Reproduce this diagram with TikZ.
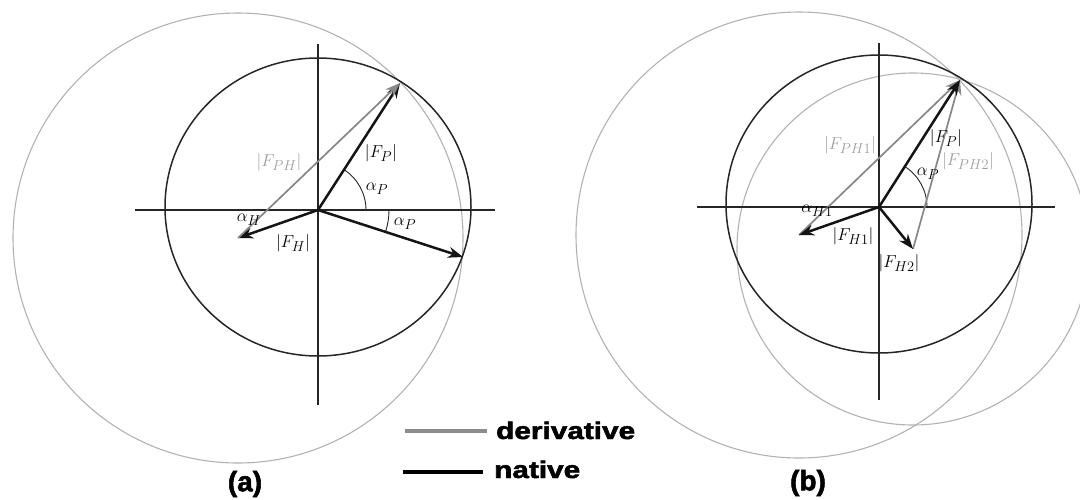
\documentclass[tikz,border=0pt]{standalone}
\usepackage{fontspec}
\newfontfamily\legfont[BoldFeatures={FakeBold=2}]{Liberation Sans}
\usetikzlibrary{arrows.meta}
\begin{document}
\begin{tikzpicture}[x=1pt,y=-1pt,
  axis/.style={line width=1.2pt, draw=black!85},
  ncirc/.style={line width=1.5pt, draw=black!85},
  dcirc/.style={line width=1.1pt, draw=black!30},
  nvec/.style={line width=2.5pt, draw=black!92, -{Stealth[length=15pt,width=11pt]}},
  dvec/.style={line width=1.7pt, draw=black!47, -{Stealth[length=15pt,width=11pt]}},
  ang/.style={line width=0.9pt, draw=black!85},
  lab/.style={font=\fontsize{19}{19}\selectfont, inner sep=0pt},
  dlab/.style={lab, text=black!38},
  leg/.style={font=\legfont\bfseries\fontsize{24}{24}\selectfont, inner sep=0pt, anchor=base west},
  captext/.style={font=\legfont\bfseries\fontsize{28}{28}\selectfont, inner sep=0pt},
  legn/.style={line width=3.2pt, draw=black},
  legd/.style={line width=3.2pt, draw=black!45}
]
\useasboundingbox (0,0) rectangle (1080,499);
\clip (0,0) rectangle (1080,499);

% ---------------- panel (a) ----------------
\coordinate (Oa) at (318,210);
\coordinate (Ca) at (318,207);
\coordinate (Pa) at (400,83);
\coordinate (Qa) at (463,257);
\coordinate (Ha) at (238,238);
\coordinate (axL) at (135,210);
\coordinate (axR) at (495,210);
\coordinate (axT) at (318,44);
\coordinate (axB) at (318,405);

\draw[dcirc] (Ha) circle[radius=225];
\draw[ncirc] (Ca) ellipse[x radius=153, y radius=149];
\draw[axis] (axL) -- (axR);
\draw[axis] (axT) -- (axB);
\draw[ang] (Oa) ++(48,0) arc[start angle=0, end angle=-57, radius=48];
\draw[ang] (Oa) ++(71,0) arc[start angle=0, end angle=18, radius=71];
\draw[nvec] (Oa) -- (Pa);
\draw[nvec] (Oa) -- (Qa);
\draw[nvec] (Oa) -- (Ha);
\draw[dvec] (Ha) -- (Pa);

\node[lab]  (lFPa)  at (381,153) {$|F_P|$};
\node[lab]  (laPa)  at (377,189) {$\alpha_P$};
\node[lab]  (laPa2) at (405,224) {$\alpha_P$};
\node[dlab] (lFPHa) at (279,162) {$|F_{PH}|$};
\node[lab]  (laHa)  at (249,220) {$\alpha_H$};
\node[lab]  (lFHa)  at (293,243) {$|F_H|$};

% ---------------- panel (b) ----------------
\coordinate (Ob) at (879,207);
\coordinate (Cb) at (879,204);
\coordinate (Pb) at (960,80);
\coordinate (H1) at (799,235);
\coordinate (H2) at (913,249);
\coordinate (bxL) at (697,207);
\coordinate (bxR) at (1055,207);
\coordinate (bxT) at (879,43);
\coordinate (bxB) at (879,400);

\draw[dcirc] (H1) circle[radius=223];
\draw[dcirc] (H2) circle[radius=176];
\draw[ncirc] (Cb) ellipse[x radius=153, y radius=149];
\draw[axis] (bxL) -- (bxR);
\draw[axis] (bxT) -- (bxB);
\draw[ang] (Ob) ++(48,0) arc[start angle=0, end angle=-57, radius=48];
\draw[dvec] (H1) -- (Pb);
\draw[dvec] (H2) -- (Pb);
\draw[nvec] (Ob) -- (Pb);
\draw[nvec] (Ob) -- (H1);
\draw[nvec] (Ob) -- (H2);

\node[dlab] (lFPH1) at (850,145) {$|F_{PH1}|$};
\node[lab]  (lFPb)  at (946,138) {$|F_P|$};
\node[dlab] (lFPH2) at (968,161) {$|F_{PH2}|$};
\node[lab]  (laPb)  at (928,174) {$\alpha_P$};
\node[lab]  (laH1)  at (817,211) {$\alpha_{H1}$};
\node[lab]  (lFH1)  at (853,236) {$|F_{H1}|$};
\node[lab]  (lFH2)  at (899,263) {$|F_{H2}|$};

% ---------------- legend and captions ----------------
\coordinate (ld1) at (405,431);
\coordinate (ld2) at (487,431);
\coordinate (ln1) at (403,472);
\coordinate (ln2) at (483,472);
\draw[legd] (ld1) -- (ld2);
\draw[legn] (ln1) -- (ln2);
\node[leg] (tder) at (496,439) {\scalebox{1.24}[1]{derivative}};
\node[leg] (tnat) at (494,478) {\scalebox{1.24}[1]{native}};
\node[captext] (capa) at (245,484) {(a)};
\node[captext] (capb) at (808,483) {(b)};
\end{tikzpicture}
\end{document}
